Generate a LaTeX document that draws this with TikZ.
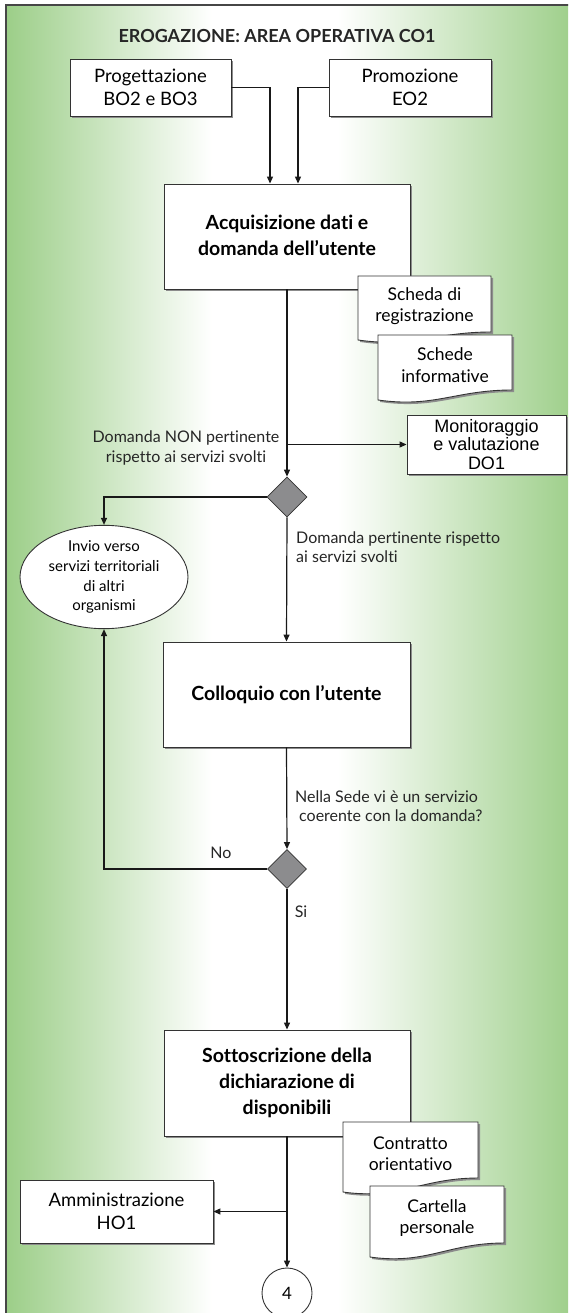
\documentclass[tikz,border=0pt]{standalone}
\usepackage{fontspec}
\setmainfont{Lato}[Ligatures=NoCommon]
\newfontfamily\arialfont{Liberation Sans}
\usetikzlibrary{shapes.geometric,arrows.meta,calc,shadows}

\definecolor{leaf}{RGB}{156,206,136}
\definecolor{framegray}{RGB}{70,70,70}
\definecolor{decgray}{RGB}{140,140,142}
\definecolor{inkline}{RGB}{25,25,25}
% the path box is mapped onto 25bp..75bp of the shading
\pgfdeclarehorizontalshading{greenfade}{100bp}{color(0bp)=(leaf); color(25bp)=(leaf); color(43bp)=(white); color(54bp)=(white); color(75bp)=(leaf); color(100bp)=(leaf)}

% wavy-bottom document sheet: name, x-left, x-right, top, right bottom, left bottom, text
\newcommand{\docsheet}[7]{%
  \pgfmathsetmacro{\docXa}{#3-0.42*(#3-#2)}%
  \pgfmathsetmacro{\docXb}{#2+0.42*(#3-#2)}%
  \pgfmathsetmacro{\docYc}{#6+8}%
  \fill[black!45, shift={(2,2)}] (#2,#4) -- (#3,#4) -- (#3,#5) .. controls (\docXa,#5) and (\docXb,\docYc) .. (#2,#6) -- cycle;
  \draw[docline] (#2,#4) -- (#3,#4) -- (#3,#5) .. controls (\docXa,#5) and (\docXb,\docYc) .. (#2,#6) -- cycle;
  \node[doctext] (#1) at ({(#2+#3)/2}, {(#4+(#5+#6)/2)/2}) {#7};
}

\begin{document}
\begin{tikzpicture}[x=1pt,y=-1pt,
  box/.style={draw=black!80, line width=0.9pt, fill=white, align=center, inner sep=0pt,
    drop shadow={shadow xshift=2pt, shadow yshift=-2pt, fill=black!45, opacity=1}},
  plain/.style={font=\fontsize{18.5}{23}\selectfont},
  strong/.style={font=\fontsize{19.5}{26}\selectfont\bfseries},
  docline/.style={draw=black!80, line width=0.9pt, fill=white},
  doctext/.style={align=center, inner sep=0pt, font=\fontsize{17.5}{21.5}\selectfont},
  lbl/.style={inner sep=0pt, font=\fontsize{16}{19.5}\selectfont, text=black!85},
  flow/.style={draw=inkline, line width=1.2pt, -{Triangle[length=7pt,width=6pt]}},
  decision/.style={diamond, draw=black!80, line width=0.8pt, fill=decgray, inner sep=0pt, minimum width=40pt, minimum height=40pt},
]
\useasboundingbox (0,0) rectangle (568,1313);
\clip (0,0) rectangle (568,1313);

% frame with green side fades
\fill[white] (0,0) rectangle (568,1313);
\shade[shading=greenfade] (6,5) rectangle (578,1330);
\draw[framegray, line width=1.3pt] (6,1330) -- (6,5) -- (580,5);

% title
\node[inner sep=0pt, font=\fontsize{18}{20}\selectfont\bfseries, text=black!85] (title) at (277,36) {EROGAZIONE: AREA OPERATIVA CO1};

% process boxes
\node[box, plain, minimum width=161pt, minimum height=57pt] (prog) at (150.5,87.5) {Progettazione\\BO2 e BO3};
\node[box, plain, minimum width=162pt, minimum height=57pt] (prom) at (410,87.5) {Promozione\\EO2};
\node[box, strong, minimum width=246pt, minimum height=105pt, text depth=3pt] (acq) at (287,236.5) {Acquisizione dati e\\domanda dell'utente};
\node[box, minimum width=159pt, minimum height=59pt, font=\arialfont\fontsize{18}{18.5}\selectfont] (mon) at (486.5,444.5) {Monitoraggio\\e valutazione\\DO1};
\node[box, strong, minimum width=247pt, minimum height=105pt] (coll) at (286.5,694.5) {Colloquio con l'utente};
\node[box, strong, minimum width=246pt, minimum height=106pt] (sott) at (287,1083) {Sottoscrizione della\\dichiarazione di\\disponibili};
\node[box, plain, minimum width=193pt, minimum height=63pt] (amm) at (116.5,1211.5) {Amministrazione\\HO1};

% documents
\docsheet{scheda}{358}{491}{276}{332}{340}{Scheda di\\registrazione}
\docsheet{schede}{378}{512}{335}{390}{400}{Schede\\informative}
\docsheet{contr}{343}{478}{1122}{1178}{1192}{Contratto\\orientativo}
\docsheet{cart}{370}{504}{1186}{1243}{1257}{Cartella\\personale}

% decisions, referral and connector
\node[decision] (d1) at (287,497) {};
\node[decision, minimum width=39pt, minimum height=39pt] (d2) at (287,869) {};
\node[ellipse, draw=black!80, line width=0.9pt, fill=white, inner sep=0pt, minimum width=168pt, minimum height=93pt,
  align=center, font=\fontsize{15}{19.8}\selectfont] (ell) at (104,577) {Invio verso\\servizi territoriali\\di altri\\organismi};
\node[circle, draw=black!80, line width=0.9pt, fill=white, minimum size=50pt, inner sep=0pt, font=\fontsize{17}{20}\selectfont] (circ) at (287,1293) {4};

% connectors
\draw[flow] (prog.east) -| ($(acq.north)+(-17,0)$);
\draw[flow] (prom.west) -| ($(acq.north)+(11,0)$);
\draw[flow] (acq.south) -- (d1.north);
\draw[flow] (acq.south |- mon.west) -- (mon.west);
\draw[flow] (d1.west) -| (ell.north);
\draw[flow] (d1.south) -- (coll.north);
\draw[flow] (coll.south) -- (d2.north);
\draw[flow] (d2.west) -| (ell.south);
\draw[flow] (d2.south) -- (sott.north);
\draw[flow] (sott.south) -- (circ.north);
\draw[flow] (sott.south |- amm.east) -- (amm.east);

% labels
\node[lbl, align=center] (nonpert) at (186,448) {Domanda NON pertinente\\rispetto ai servizi svolti};
\node[lbl, align=left, anchor=west] (pert) at (296,547) {Domanda pertinente rispetto\\ai servizi svolti};
\node[lbl, align=left, anchor=west] (sede) at (295,806) {Nella Sede vi è un servizio\\\hspace{4pt}coerente con la domanda?};
\node[lbl] (no) at (221,853) {No};
\node[lbl] (si) at (301,912) {Si};
\end{tikzpicture}
\end{document}
